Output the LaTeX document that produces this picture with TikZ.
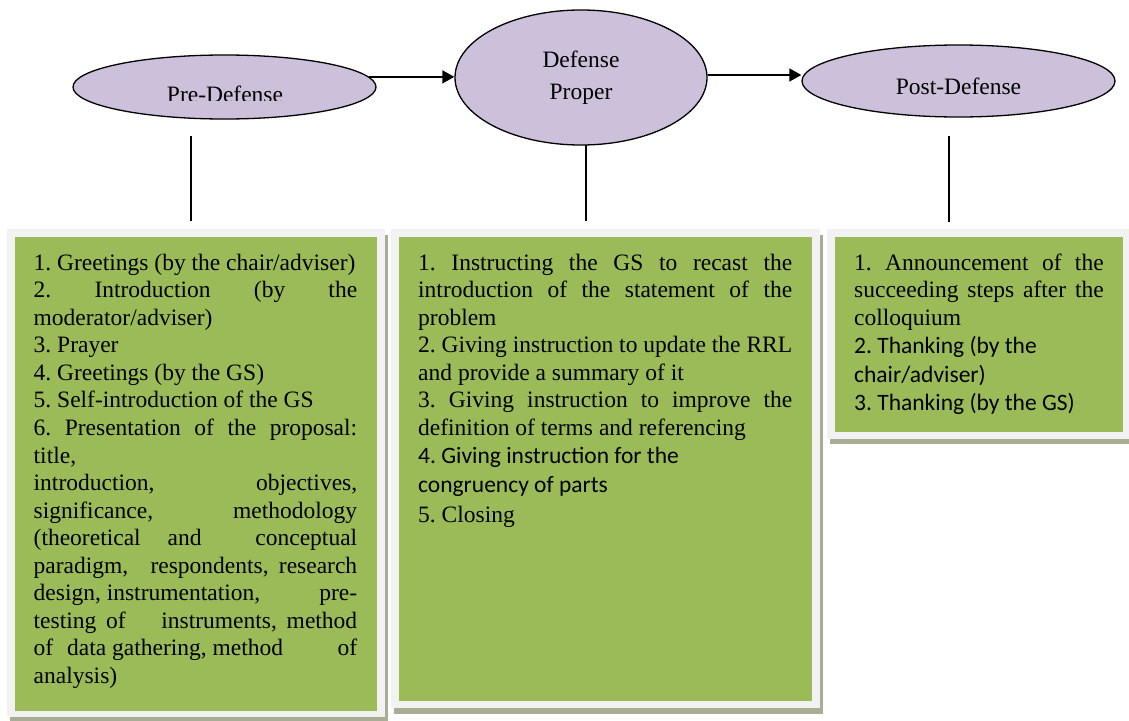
\documentclass[tikz,border=0pt]{standalone}
\usepackage{fontspec}
\setmainfont{Liberation Serif}
\newfontfamily\calibfont{Carlito}
\usetikzlibrary{shapes.geometric,arrows.meta}
\definecolor{lav}{HTML}{CCC0DA}
\definecolor{grn}{HTML}{9BBB59}
\definecolor{frm}{HTML}{F2F2F2}
\definecolor{shd}{HTML}{A8AE96}
\newcommand\jl[1]{\hbox to\hsize{#1}}
\newcommand\rl[1]{\hbox{#1}}
\newcommand\tms{\rmfamily\fontsize{23.5}{27.55}\selectfont}
\newcommand\clb[1]{\calibfont\fontsize{23.5}{#1}\selectfont}
\begin{document}
\frenchspacing
\begin{tikzpicture}[x=1pt,y=-1pt,
  ell/.style={ellipse, draw=black, line width=1.3pt, fill=lav, inner sep=0pt},
  arr/.style={line width=1.3pt, -{Triangle[length=12pt,width=13pt]}},
  vline/.style={line width=1.5pt},
  txt/.style={anchor=north west, inner sep=0pt, font=\tms},
  shadowbox/.style={fill=shd},
  framebox/.style={fill=frm},
  greenbox/.style={fill=grn}]
\useasboundingbox (0,0) rectangle (1129,720);

% boxes
\fill[shadowbox] (9.5,234.5) rectangle (387.5,722.5);
\fill[framebox] (7,229) rectangle (385,717);
\fill[greenbox] (15,237) rectangle (377,710.5);

\fill[shadowbox] (393.5,234.5) rectangle (823,714);
\fill[framebox] (391,229) rectangle (820,708);
\fill[greenbox] (399,237) rectangle (812,701);

\fill[shadowbox] (829.5,234.5) rectangle (1134,444);
\fill[framebox] (827,229) rectangle (1131,438.5);
\fill[greenbox] (835,237) rectangle (1123,432);

% ellipses
\node[ell, minimum width=303pt, minimum height=64pt] (pre) at (224.5,87) {};
\begin{scope}
  \clip (150,78) rectangle (300,100);
  \node[anchor=base, inner sep=0pt, font=\tms] (pretext) at (225,102) {Pre-Defense};
\end{scope}
\node[ell, minimum width=252pt, minimum height=135pt, align=center,
      font=\rmfamily\fontsize{23.5}{32}\selectfont] (prop) at (581,77.5) {Defense\\Proper};
\node[ell, minimum width=313pt, minimum height=72pt] (post) at (958.5,81) {};
\node[anchor=base, inner sep=0pt, font=\tms] (posttext) at (958.5,94) {Post-Defense};

% arrows
\coordinate (ay) at (0,75);
\draw[arr] (pre.4.9) -- (pre.4.9 -| prop.west);
\draw[arr] (prop.east |- ay) -- (post.west |- ay);

% vertical connectors
\coordinate (v1a) at (191,136);
\coordinate (v1b) at (191,221);
\coordinate (v2a) at (586,145);
\coordinate (v2b) at (586,221);
\coordinate (v3a) at (949,136);
\coordinate (v3b) at (949,222);
\draw[vline] (v1a) -- (v1b);
\draw[vline] (v2a) -- (v2b);
\draw[vline] (v3a) -- (v3b);

% box texts
\node[txt] (t1) at (33.5,250.7) {\vtop{\hsize=323.5pt
\rl{\strut 1. Greetings (by the chair/adviser)}
\jl{2. Introduction (by the}
\rl{moderator/adviser)}
\rl{3. Prayer}
\rl{4. Greetings (by the GS)}
\rl{5. Self-introduction of the GS}
\jl{6. Presentation of the proposal:}
\rl{title,}
\jl{introduction, objectives,}
\jl{significance, methodology}
\jl{(theoretical and\ \ conceptual}
\jl{paradigm,\hspace{12pt} respondents, research}
\jl{design, instrumentation,\hfill pre-}
\jl{testing of\hspace{26pt} instruments, method}
\jl{of\hspace{8pt} data gathering, method\hfill of}
\rl{analysis)}
}};

\node[txt] (t2) at (418,250.7) {\vtop{\hsize=374pt
\jl{\strut 1. Instructing the GS to recast the}
\jl{introduction of the statement of the}
\rl{problem}
\jl{2. Giving instruction to update the RRL}
\rl{and provide a summary of it}
\jl{3. Giving instruction to improve the}
\rl{definition of terms and referencing}
\clb{28.5}
\rl{4. Giving instruction for the}
\rl{congruency of parts}
\rmfamily\fontsize{23.5}{30}\selectfont
\rl{5. Closing}
}};

\node[txt] (t3) at (854,250.7) {\vtop{\hsize=249.5pt
\jl{\strut 1. Announcement of the}
\jl{succeeding steps after the}
\rl{colloquium}
\clb{28.5}
\rl{2. Thanking (by the}
\rl{chair/adviser)}
\rl{3. Thanking (by the GS)}
}};
\end{tikzpicture}
\end{document}
